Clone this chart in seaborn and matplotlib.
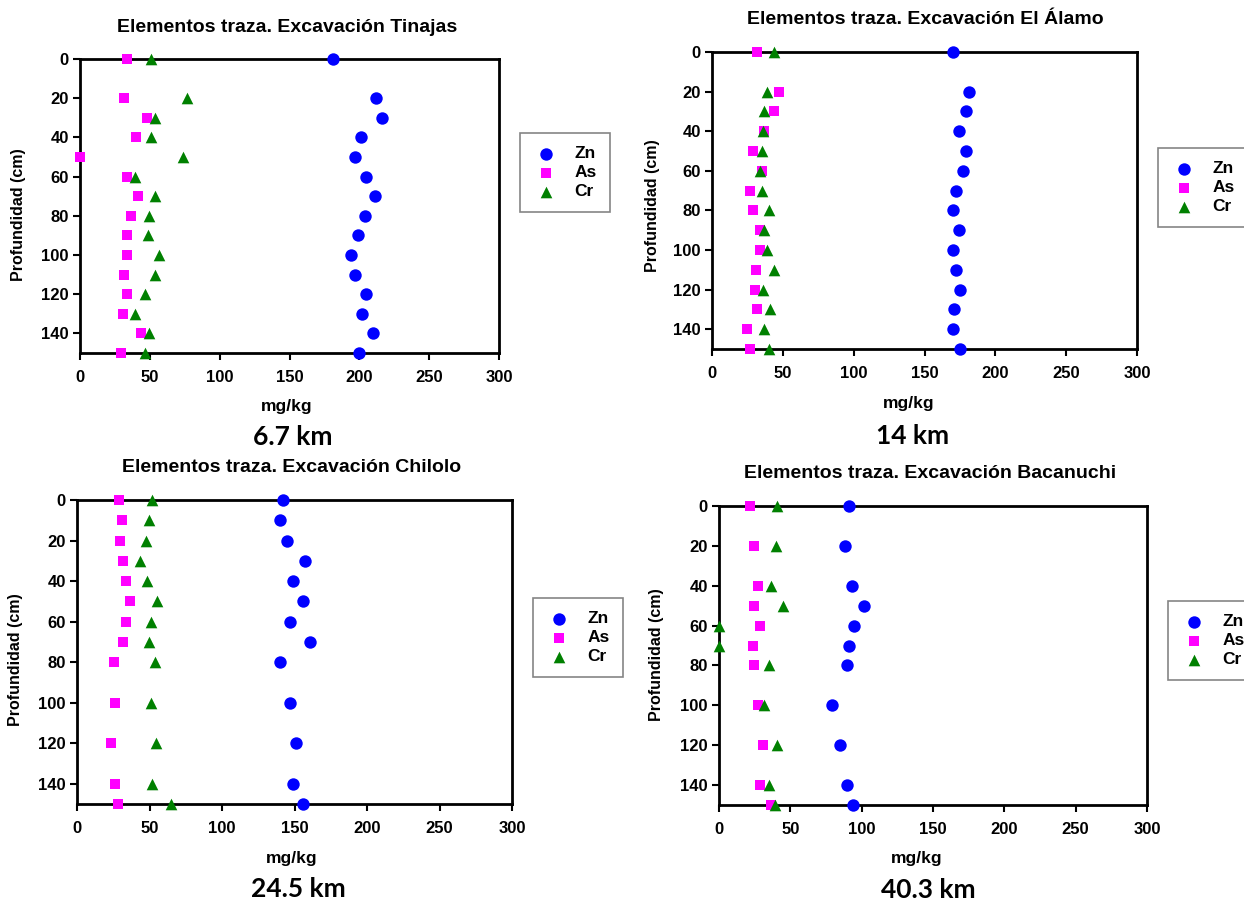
import numpy as np
import pandas as pd
import matplotlib
matplotlib.use("Agg")
import matplotlib.pyplot as plt
import seaborn as sns

# ---------------- data ----------------
elements = ["Zn", "As", "Cr"]

tin_depth = [0, 20, 30, 40, 50, 60, 70, 80, 90, 100, 110, 120, 130, 140, 150]
tin_zn = [181, 212, 216, 201, 197, 205, 211, 204, 199, 194, 197, 205, 202, 210, 200]
tin_as = [34, 31.5, 48, 40, 0, 34, 41.5, 36.5, 34, 34, 31.5, 34, 30.5, 43.5, 29.5]
tin_cr = [50.5, 76.5, 54, 50.5, 73.5, 39.5, 54, 49.5, 48.5, 56.5, 53.5, 46.5, 39.5, 49.5, 46.5]

ala_depth = [0, 20, 30, 40, 50, 60, 70, 80, 90, 100, 110, 120, 130, 140, 150]
ala_zn = [170, 181.5, 179, 174, 179, 177, 172, 170, 174, 170, 172, 175, 171, 170, 175]
ala_as = [32, 47, 44, 37, 29, 35, 27, 29, 34, 34, 31, 30, 32, 25, 27]
ala_cr = [44, 39, 37, 36, 35, 34, 35, 40, 37, 39, 44, 36, 41, 37, 40]

chi_depth = [0, 10, 20, 30, 40, 50, 60, 70, 80, 100, 120, 140, 150]
chi_zn = [142, 140, 145, 157, 149, 156, 147, 161, 140, 147, 151, 149, 156]
chi_as = [29, 31, 29.5, 31.5, 34, 36.5, 34, 31.5, 25.5, 26.5, 23.5, 26.5, 28.5]
chi_cr = [52, 49.5, 47.5, 43.5, 48.5, 55.5, 51, 49.5, 54, 51, 54.5, 52, 65]

bac_depth = [0, 20, 40, 50, 60, 70, 80, 100, 120, 140, 150]
bac_zn = [91, 88.5, 93, 101.5, 94.5, 91, 90, 79, 85, 90, 94]
bac_as = [21.5, 24.5, 27, 24.5, 28.5, 23.5, 24.5, 27, 31, 28.5, 36.5]
bac_cr = [41, 40, 36.5, 45, 0, 0, 35, 31.5, 41, 35, 39.5]

titles = ["Elementos traza. Excavación Tinajas",
          "Elementos traza. Excavación El Álamo",
          "Elementos traza. Excavación Chilolo",
          "Elementos traza. Excavación Bacanuchi"]
distances = ["6.7 km", "14 km", "24.5 km", "40.3 km"]
x_ticks = [0, 50, 100, 150, 200, 250, 300]
y_ticks = [0, 20, 40, 60, 80, 100, 120, 140]
x_label = "mg/kg"
y_label = "Profundidad (cm)"

panels = [
    (tin_depth, tin_zn, tin_as, tin_cr),
    (ala_depth, ala_zn, ala_as, ala_cr),
    (chi_depth, chi_zn, chi_as, chi_cr),
    (bac_depth, bac_zn, bac_as, bac_cr),
]

# ---------------- style ----------------
sns.set_style("white")
plt.rcParams["font.family"] = ["Liberation Sans", "DejaVu Sans"]
plt.rcParams["font.weight"] = "bold"
plt.rcParams["axes.labelweight"] = "bold"
for key in ["text.color", "axes.labelcolor", "xtick.color", "ytick.color", "axes.edgecolor"]:
    plt.rcParams[key] = "black"

palette = {"Zn": "#0000FF", "As": "#FF00FF", "Cr": "#008000"}
markers = {"Zn": "o", "As": "s", "Cr": "^"}
sizes = {"Zn": 80, "As": 58, "Cr": 70}

W, H = 1244, 901
fig = plt.figure(figsize=(W / 100, H / 100), dpi=100)
fig.patch.set_facecolor("white")


def fx(px):
    return px / W


def fy(py):
    return 1 - py / H


# layout in pixels: (left, right, top, bottom)
boxes = [(80, 499, 59, 353), (712, 1137, 52, 349), (77, 512, 500, 804), (719, 1147, 506, 805)]
title_pos = [(287, 28), (925, 20), (292, 468), (930, 474)]
xlab_pos = [(287, 406), (909, 403), (292, 859), (917, 859)]
ylab_pos = [(19, 215), (653, 206), (16, 660), (657, 655)]
dist_pos = [(293, 437), (913, 436), (298, 889), (928, 890)]
legend_pos = [(520, 133), (1158, 148), (533, 598), (1168, 601)]

for i, (depth, zn, as_, cr) in enumerate(panels):
    l, r, t, b = boxes[i]
    ax = fig.add_axes([fx(l), fy(b), fx(r - l), (b - t) / H])
    df = pd.DataFrame({
        "depth": list(depth) * 3,
        "value": list(zn) + list(as_) + list(cr),
        "element": ["Zn"] * len(depth) + ["As"] * len(depth) + ["Cr"] * len(depth),
    })
    for el in elements:
        sub = df[df["element"] == el]
        sns.scatterplot(data=sub, x="value", y="depth", color=palette[el],
                        marker=markers[el], s=sizes[el], linewidth=0,
                        label=el, ax=ax, clip_on=False, zorder=3)
    ax.set_xlim(0, 300)
    ax.set_ylim(150, 0)
    ax.set_xticks(x_ticks)
    ax.set_yticks(y_ticks)
    ax.tick_params(axis="both", which="major", direction="out", length=5, width=1.5,
                   labelsize=12, bottom=True, left=True, top=False, right=False, pad=3,
                   colors="black")
    ax.tick_params(axis="x", pad=7)
    for lab in ax.get_xticklabels() + ax.get_yticklabels():
        lab.set_fontweight("bold")
    for sp in ax.spines.values():
        sp.set_visible(True)
        sp.set_color("black")
        sp.set_linewidth(2)

    ax.set_xlabel(x_label, fontsize=12.5, fontweight="bold", color="black")
    ax.set_ylabel(y_label, fontsize=11.5, fontweight="bold", color="black")
    ax.xaxis.set_label_coords(fx(xlab_pos[i][0]), fy(xlab_pos[i][1]), transform=fig.transFigure)
    ax.yaxis.set_label_coords(fx(ylab_pos[i][0]), fy(ylab_pos[i][1]), transform=fig.transFigure)
    ax.xaxis.label.set_va("center")
    ax.yaxis.label.set_va("center")

    fig.text(fx(title_pos[i][0]), fy(title_pos[i][1]), titles[i], ha="center", va="center",
             fontsize=14, fontweight="bold", color="black")
    fig.text(fx(dist_pos[i][0]), fy(dist_pos[i][1]), distances[i], ha="center", va="center",
             fontsize=19, fontweight="bold", family=["Lato", "DejaVu Sans"], color="black")

    leg = ax.legend(loc="upper left", bbox_to_anchor=(fx(legend_pos[i][0]), fy(legend_pos[i][1])),
                    bbox_transform=fig.transFigure, frameon=True, fancybox=False,
                    prop={"size": 12.5, "weight": "bold"}, labelspacing=0.22,
                    handletextpad=0.9, borderpad=0.75, handlelength=1.5, borderaxespad=0,
                    markerscale=1.0)
    leg.get_frame().set_edgecolor("#666666")
    leg.get_frame().set_linewidth(1.2)
    for txt in leg.get_texts():
        txt.set_color("black")

fig.savefig("out.png", dpi=100, facecolor="white")
